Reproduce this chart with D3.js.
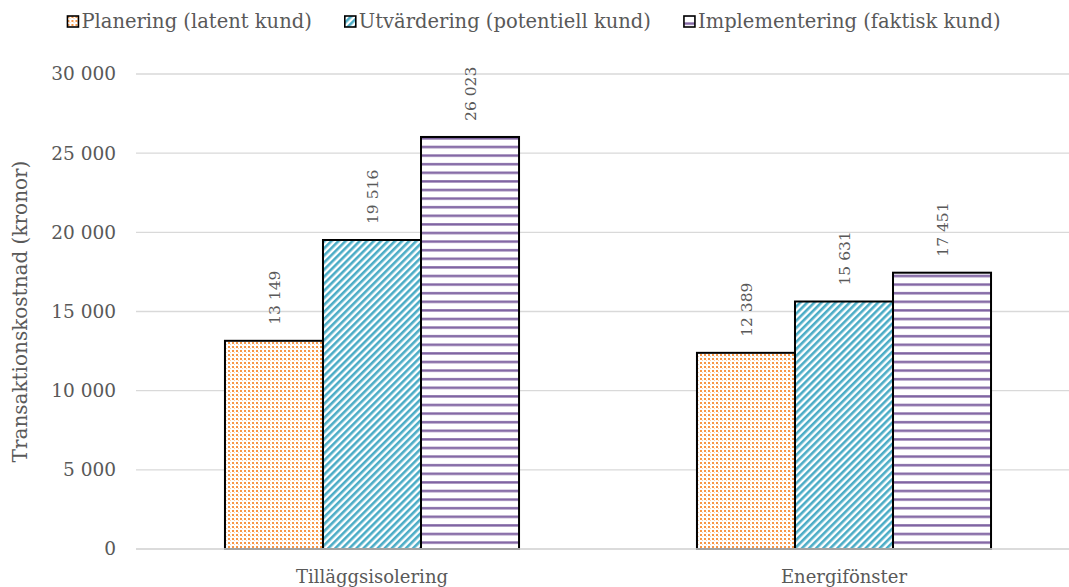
<!DOCTYPE html>
<html>
<head>
<meta charset="utf-8">
<script src="https://cdn.jsdelivr.net/npm/d3@7"></script>
<style>
  html, body { margin: 0; padding: 0; background: #fff; }
  svg { display: block; }
  text { font-family: "DejaVu Serif", serif; fill: #595959; }
</style>
</head>
<body>
<svg id="chart" width="1069" height="587"></svg>
<script>
// Transaction cost per customer stage, two energy measures
const categories = ["Tilläggsisolering", "Energifönster"];
const seriesNames = ["Planering (latent kund)", "Utvärdering (potentiell kund)", "Implementering (faktisk kund)"];
const planering = [13149, 12389];
const utvardering = [19516, 15631];
const implementering = [26023, 17451];
const yTicks = [0, 5000, 10000, 15000, 20000, 25000, 30000];
const yTitle = "Transaktionskostnad (kronor)";

const seriesValues = [planering, utvardering, implementering];
const seriesKeys = ["plan", "utv", "impl"];

const svg = d3.select("#chart");
const W = 1069, H = 587;
const m = { left: 136, right: -11, top: 74, bottom: 38 };
const plotW = W - m.left - m.right;
const plotH = H - m.top - m.bottom;

const fmt = d3.formatLocale({ decimal: ",", thousands: "\u00a0", grouping: [3], currency: ["", " kr"] }).format(",d");

// Fill patterns
const defs = svg.append("defs");
const pDots = defs.append("pattern").attr("id", "pat-plan")
  .attr("patternUnits", "userSpaceOnUse").attr("width", 4).attr("height", 4);
pDots.append("rect").attr("width", 4).attr("height", 4).attr("fill", "#fff");
pDots.append("rect").attr("x", 0).attr("y", 0).attr("width", 2).attr("height", 2).attr("fill", "#F79646");
pDots.append("rect").attr("x", 2).attr("y", 2).attr("width", 1).attr("height", 1).attr("fill", "#FBD0AD");

const pDiag = defs.append("pattern").attr("id", "pat-utv")
  .attr("patternUnits", "userSpaceOnUse").attr("width", 5).attr("height", 5)
  .attr("patternTransform", "rotate(45)");
pDiag.append("rect").attr("width", 5).attr("height", 5).attr("fill", "#fff");
pDiag.append("rect").attr("x", 0).attr("y", 0).attr("width", 2.6).attr("height", 5).attr("fill", "#4BACC6");

const pHor = defs.append("pattern").attr("id", "pat-impl")
  .attr("patternUnits", "userSpaceOnUse").attr("width", 8).attr("height", 8.6);
pHor.append("rect").attr("width", 8).attr("height", 8.6).attr("fill", "#fff");
pHor.append("rect").attr("x", 0).attr("y", 3).attr("width", 8).attr("height", 2.4).attr("fill", "#8064A2");

const g = svg.append("g").attr("transform", `translate(${m.left},${m.top})`);

const x0 = d3.scaleBand().domain(categories).range([0, plotW]).paddingInner(0.377).paddingOuter(0.1885);
const x1 = d3.scaleBand().domain(seriesKeys).range([0, x0.bandwidth()]);
const y = d3.scaleLinear().domain([0, 30000]).range([plotH, 0]);

// Gridlines
g.append("g").selectAll("line").data(yTicks).join("line")
  .attr("x1", 0).attr("x2", plotW)
  .attr("y1", d => y(d)).attr("y2", d => y(d))
  .attr("stroke", "#D9D9D9").attr("stroke-width", 1.3);

// Y axis labels
const yAxis = d3.axisLeft(y).tickValues(yTicks).tickFormat(fmt).tickSize(0).tickPadding(20);
const ya = g.append("g").call(yAxis);
ya.select(".domain").remove();
ya.selectAll("text").style("font-size", "18.5px").attr("fill", "#595959").attr("font-family", "DejaVu Serif");

// Bars
const data = [];
categories.forEach((c, i) => seriesKeys.forEach((k, j) => data.push({ c, k, v: seriesValues[j][i] })));

g.append("g").selectAll("rect").data(data).join("rect")
  .attr("x", d => x0(d.c) + x1(d.k))
  .attr("y", d => y(d.v))
  .attr("width", x1.bandwidth())
  .attr("height", d => plotH - y(d.v))
  .attr("fill", d => `url(#pat-${d.k})`)
  .attr("stroke", "#000").attr("stroke-width", 2);

// Value labels, rotated
g.append("g").selectAll("text").data(data).join("text")
  .attr("transform", d => `translate(${x0(d.c) + x1(d.k) + x1.bandwidth() / 2 + 6},${y(d.v) - 16}) rotate(-90)`)
  .attr("text-anchor", "start")
  .style("font-size", "15.5px")
  .text(d => fmt(d.v));

// X axis line
g.append("line").attr("x1", 0).attr("x2", plotW).attr("y1", plotH).attr("y2", plotH)
  .attr("stroke", "#D9D9D9").attr("stroke-width", 1.3);

// Category labels
g.append("g").selectAll("text").data(categories).join("text")
  .attr("x", d => x0(d) + x0.bandwidth() / 2)
  .attr("y", plotH + 34)
  .attr("text-anchor", "middle")
  .style("font-size", "18px")
  .text(d => d);

// Y axis title
svg.append("text")
  .attr("transform", `translate(27,${m.top + plotH / 2}) rotate(-90)`)
  .attr("text-anchor", "middle")
  .style("font-size", "20px")
  .text(yTitle);

// Legend
const legend = svg.append("g").attr("transform", "translate(0,28)");
const items = legend.selectAll("g").data(seriesKeys).join("g");
items.append("rect").attr("x", 0).attr("y", -12).attr("width", 11).attr("height", 11)
  .attr("fill", d => `url(#pat-${d})`).attr("stroke", "#000").attr("stroke-width", 1.6);
items.append("text").attr("x", 14).attr("y", 0).style("font-size", "19.5px")
  .text((d, i) => seriesNames[i]);
let widths = [];
items.each(function () { widths.push(14 + this.querySelector("text").getComputedTextLength()); });
const gap = 33;
const total = d3.sum(widths) + gap * (widths.length - 1);
let cx = 534 - total / 2;
items.attr("transform", (d, i) => { const t = `translate(${cx},0)`; cx += widths[i] + gap; return t; });
</script>
</body>
</html>
